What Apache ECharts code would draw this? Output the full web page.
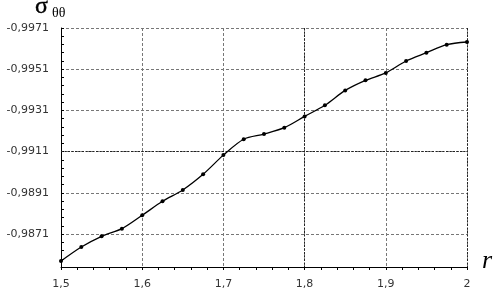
<!DOCTYPE html>
<html><head><meta charset="utf-8">
<script src="https://cdn.jsdelivr.net/npm/echarts@6/dist/echarts.min.js"></script>
<style>html,body{margin:0;padding:0;background:#fff}#c{width:495px;height:296px}</style>
</head><body><div id="c"></div>
<script>
// r values
const rValues = [1.5,1.525,1.55,1.575,1.6,1.625,1.65,1.675,1.7,1.725,1.75,1.775,1.8,1.825,1.85,1.875,1.9,1.925,1.95,1.975,2.0];
// sigma_theta_theta values
const sigma = [-0.98579,-0.98647,-0.98699,-0.98736,-0.98801,-0.98869,-0.98924,-0.99000,-0.99093,-0.99170,-0.99195,-0.99226,-0.99281,-0.99335,-0.99407,-0.99456,-0.99492,-0.99550,-0.99590,-0.99629,-0.99642];
// axis reference (top of y axis) and range
const yTop = -0.9971;
const yBottom = -0.9855;
const yStep = 0.002;
const xTickLabels = ['1,5','1,6','1,7','1,8','1,9','2'];

const chart = echarts.init(document.getElementById('c'));
// offset from the top label so tick counting starts at zero
const data = rValues.map((r,i)=>[r, +(sigma[i]-yTop).toFixed(6)]);
const labelFont = {color:'#333', fontSize:11, fontFamily:'DejaVu Sans'};
const darkGrid = {color:'#222', type:[2,1.5], width:1};
const yDark = +(-0.9911-yTop).toFixed(6);
const yMax = +(yBottom-yTop).toFixed(6);
chart.setOption({
  animation:false,
  grid:{left:61,right:28,top:28,bottom:29},
  graphic:[
    {type:'text',x:35,y:7,style:{text:'σ',font:'24px "Liberation Serif"',fill:'#000',stroke:'#000',lineWidth:0.4,verticalAlign:'middle'}},
    {type:'text',x:52,y:13.5,style:{text:'θθ',font:'14px "Liberation Serif"',fill:'#000',verticalAlign:'middle'}},
    {type:'text',x:482,y:261,style:{text:'r',font:'italic 26px "Liberation Serif"',fill:'#000',verticalAlign:'middle'}}
  ],
  xAxis:{
    type:'value', min:1.5, max:2, interval:0.1,
    axisLine:{show:true,onZero:false,lineStyle:{color:'#000',width:1}},
    axisTick:{show:true,inside:false,length:3,lineStyle:{color:'#000'}},
    minorTick:{show:true,splitNumber:5,length:3,lineStyle:{color:'#000'}},
    axisLabel:{...labelFont, margin:12, formatter:(v)=>{const i=Math.round((v-1.5)/0.1);return xTickLabels[i]||'';}},
    splitLine:{show:true,lineStyle:{color:'#777',type:[3,2],width:1}}
  },
  yAxis:{
    type:'value', inverse:true, min:0, max:yMax, interval:yStep,
    axisLine:{show:true,onZero:false,lineStyle:{color:'#000',width:1}},
    axisTick:{show:true,inside:true,length:3,lineStyle:{color:'#000'}},
    minorTick:{show:true,splitNumber:5,length:3,lineStyle:{color:'#000'}},
    axisLabel:{...labelFont, margin:12, showMaxLabel:false, formatter:(v)=>(v+yTop).toFixed(4).replace('.',',')},
    splitLine:{show:true,lineStyle:{color:'#777',type:[3,2],width:1}}
  },
  series:[{
    type:'line', data:data, smooth:0.3,
    symbol:'circle', symbolSize:4,
    lineStyle:{color:'#000',width:1.3},
    itemStyle:{color:'#000'},
    z:3,
    markLine:{
      silent:true, symbol:'none', label:{show:false}, lineStyle:darkGrid, z:1,
      data:[
        [{coord:[1.8,0]},{coord:[1.8,yMax]}],
        [{coord:[2,0]},{coord:[2,yMax]}],
        [{coord:[1.5,yDark]},{coord:[2,yDark]}]
      ]
    }
  }]
});
</script></body></html>
